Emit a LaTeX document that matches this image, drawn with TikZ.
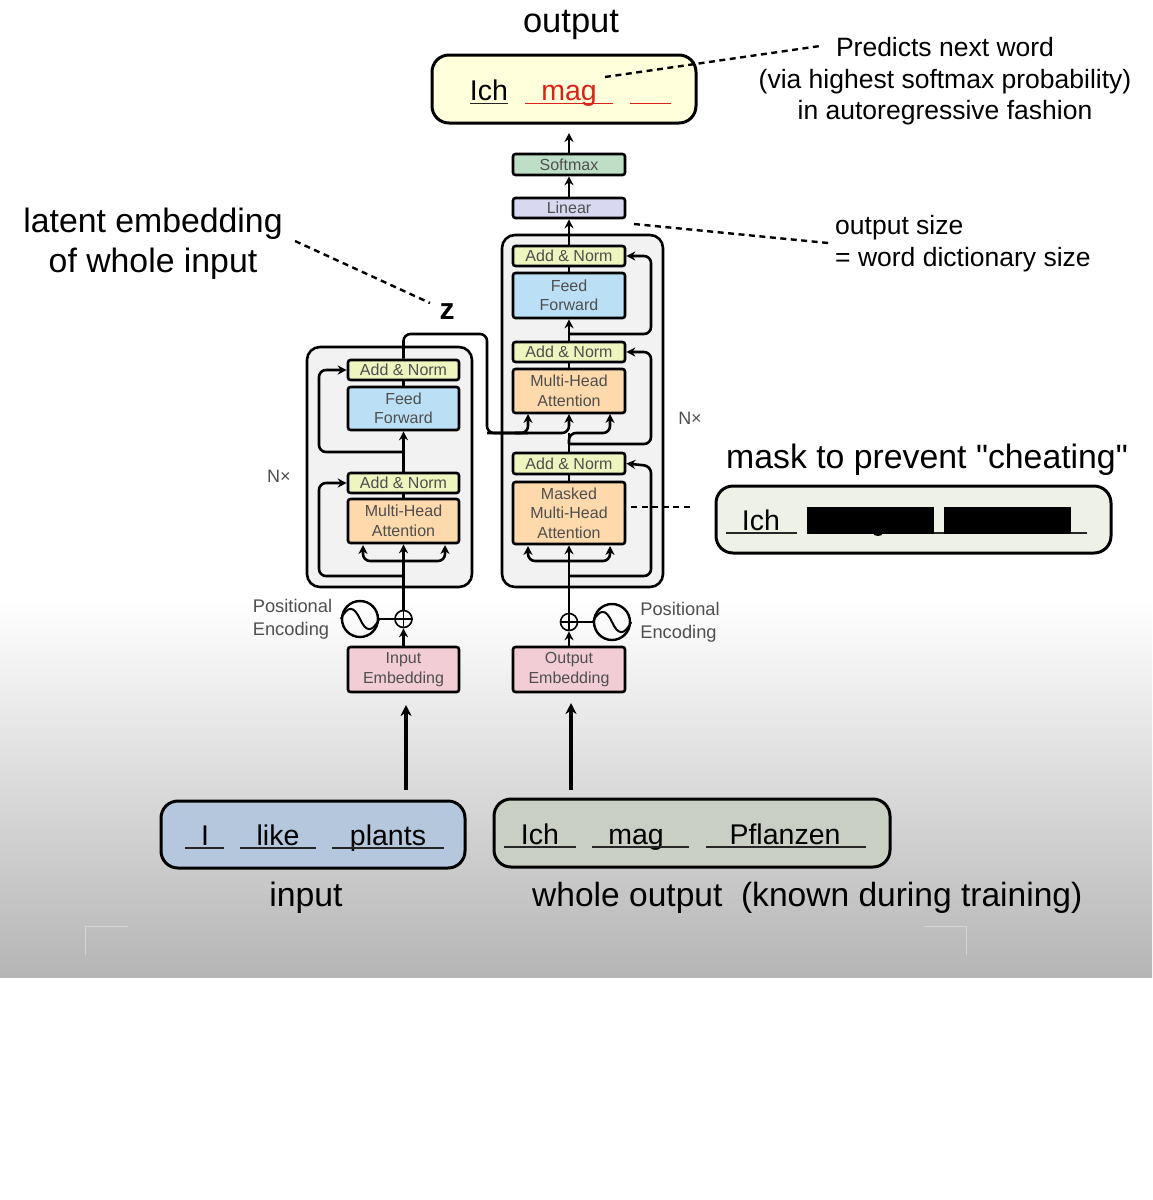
\documentclass[tikz,border=0pt]{standalone}
\usepackage{fontspec}
\setmainfont{Liberation Sans}
\newfontfamily\plainf{Liberation Sans}
\usetikzlibrary{arrows.meta}
\definecolor{txtc}{HTML}{4F4F4F}
\definecolor{ancol}{HTML}{EFF5BE}
\definecolor{ffcol}{HTML}{BBE0F5}
\definecolor{mhcol}{HTML}{FDD9AC}
\definecolor{smcol}{HTML}{BEDFC5}
\definecolor{lncol}{HTML}{D8D8F0}
\definecolor{emcol}{HTML}{F2CDD6}
\definecolor{stackc}{HTML}{F2F2F2}
\definecolor{redc}{HTML}{D8231B}
\definecolor{oboxc}{HTML}{FFFFDC}
\definecolor{mboxc}{HTML}{EEF2E6}
\definecolor{iboxc}{HTML}{B4C7DC}
\definecolor{wboxc}{HTML}{C9CFC3}
\newcommand{\fs}[1]{\fontsize{#1}{#1}\selectfont}
\tikzset{
  x=1pt,y=-1pt,
  blockb/.style={draw=black,line width=2.6pt,rounded corners=2.5pt,inner sep=0pt,align=center,text=txtc,font=\fs{16},anchor=center},
  stackb/.style={draw=black,line width=2.6pt,rounded corners=13pt,fill=stackc},
  wbox/.style={draw=black,line width=3pt,rounded corners=17pt,inner sep=0pt},
  flow/.style={line width=2.6pt,-{Stealth[length=9pt,width=9pt]}},
  flowb/.style={line width=3.2pt,-{Stealth[length=11pt,width=11pt]}},
  flowl/.style={line width=2.6pt,rounded corners=7pt,-{Stealth[length=9pt,width=9pt]}},
  plain/.style={line width=2.6pt,rounded corners=7pt},
  dots/.style={line width=2.4pt,dash pattern=on 6pt off 4.5pt},
  big/.style={font=\fs{33.8},text=black,inner sep=0pt,anchor=base},
  mid/.style={font=\fs{26.5},text=black,inner sep=0pt,anchor=base},
  word/.style={font=\fs{28.5},text=black,inner sep=0pt,anchor=base},
  side/.style={font=\fs{18.3},text=txtc,inner sep=0pt,align=left},
  nxl/.style={font=\fs{18},text=txtc,inner sep=0pt},
  uline/.style={line width=1.4pt,black!85},
  oplus/.style={circle,draw=black,line width=1.6pt,minimum size=17pt,inner sep=0pt},
  sine/.style={circle,draw=black,line width=2.4pt,minimum size=36pt,inner sep=0pt},
}
\newcommand{\blk}[7]{\node[blockb,fill=#2,minimum width=#5 pt-#4 pt,minimum height=#7 pt-#6 pt] (#1) at ({(#4+#5)/2},{(#6+#7)/2}) {#3};}
\begin{document}
\begin{tikzpicture}
\useasboundingbox (0,0) rectangle (1152,1200);
\fill[white] (0,0) rectangle (1152,1200);
\shade[top color=white,bottom color=black!29] (0,600) rectangle (1152,977);
\draw[black!17,line width=.8pt] (85,955) -- (85,926) -- (128,926);
\draw[black!17,line width=.8pt] (924,926) -- (966,926) -- (966,955);

% stacks
\draw[stackb] (307,347) rectangle (472,587);
\draw[stackb] (502,235) rectangle (663,587);

% junction coordinates
\coordinate (enctop) at (403.5,334);
\coordinate (encjump) at (487,334);
\coordinate (encin) at (487,433);

% encoder blocks
\blk{ean1}{ancol}{Add \& Norm}{348}{459}{360}{380}
\blk{eff}{ffcol}{Feed\\[3.5pt]Forward}{348}{459}{387}{430}
\blk{ean2}{ancol}{Add \& Norm}{348}{459}{473}{493}
\blk{emh}{mhcol}{Multi-Head\\[3.5pt]Attention}{348}{459}{499}{543}
\blk{iemb}{emcol}{Input\\[3.5pt]Embedding}{348}{459}{647}{692}

% decoder blocks
\blk{sm}{smcol}{Softmax}{513}{625}{154}{175}
\blk{lin}{lncol}{Linear}{513}{625}{198}{218}
\blk{dan1}{ancol}{Add \& Norm}{513}{625}{246}{266}
\blk{dff}{ffcol}{Feed\\[3.5pt]Forward}{513}{625}{273}{318}
\blk{dan2}{ancol}{Add \& Norm}{513}{625}{342}{362}
\blk{dmh}{mhcol}{Multi-Head\\[3.5pt]Attention}{513}{625}{369}{413}
\blk{dan3}{ancol}{Add \& Norm}{513}{625}{453}{474}
\blk{dmm}{mhcol}{Masked\\[3.5pt]Multi-Head\\[3.5pt]Attention}{513}{625}{482}{544}
\blk{oemb}{emcol}{Output\\[3.5pt]Embedding}{513}{625}{647}{692}

% positional encoding
\node[oplus] (eplus) at (403.5,619) {};
\node[oplus] (dplus) at (569,622) {};
\node[sine] (esin) at (360,619) {};
\node[sine] (dsin) at (612,622) {};
\draw[line width=2pt] (esin.west) .. controls (348,605) and (354,606) .. (esin.center) .. controls (366,632) and (372,633) .. (esin.east);
\draw[line width=2pt] (dsin.west) .. controls (600,608) and (606,609) .. (dsin.center) .. controls (618,635) and (624,636) .. (dsin.east);
\draw[line width=1.6pt] (eplus.north) -- (eplus.south) (eplus.west) -- (eplus.east);
\draw[line width=1.6pt] (dplus.north) -- (dplus.south) (dplus.west) -- (dplus.east);
\draw[line width=2.4pt] (esin) -- (eplus);
\draw[line width=2.4pt] (dsin) -- (dplus);
\node[side] (pel) at (292.5,619) {Positional\\[5pt]Encoding};
\node[side] (per) at (680,622) {Positional\\[5pt]Encoding};
\node[nxl] (nxa) at (279,476) {N×};
\node[nxl] (nxb) at (690,418) {N×};

% encoder connectors
\draw[flow] (iemb.north) -- (eplus.south);
\draw[flow] (eplus.north) -- (emh.south);
\coordinate (ea) at (403.5,576);
\coordinate (eb) at (403.5,561);
\coordinate (ec) at (403.5,452);
\draw[flowl] (ea) -- (319,576) -- (319,483) -- (ean2.west);
\draw[flowl] (eb) -- (363,561) -- (363,545);
\draw[flowl] (eb) -- (445,561) -- (445,545);
\draw[line width=2.6pt] (ean2.south) -- (emh.north);
\draw[flow] (ean2.north) -- (eff.south);
\draw[flowl] (ec) -- (319,452) -- (319,370) -- (ean1.west);
\draw[line width=2.6pt] (eff.north) -- (ean1.south);
\draw[plain] (ean1.north) -- (enctop) -- (encjump) -- (encin) -- (528,433);
\draw[flowl] (encin) -- (569,433) -- (569,414);
\draw[flowl] (515,433) -- (528,433) -- (528,414);

% decoder connectors
\draw[flow] (oemb.north) -- (dplus.south);
\draw[flow] (dplus.north) -- (dmm.south);
\coordinate (da) at (569,576);
\coordinate (db) at (569,561);
\coordinate (dc) at (569,444);
\coordinate (dd) at (569,433);
\coordinate (de) at (569,334);
\draw[flowl] (da) -- (651,576) -- (651,466) -- (dan3.east);
\draw[flowl] (db) -- (528,561) -- (528,546);
\draw[flowl] (db) -- (610,561) -- (610,546);
\draw[line width=2.6pt] (dan3.south) -- (dmm.north);
\draw[line width=2.6pt] (dan3.north) -- (dd);
\draw[flowl] (dc) -- (651,444) -- (651,352) -- (dan2.east);
\draw[flowl] (569,444) -- (569,433) -- (610,433) -- (610,414);
\draw[line width=2.6pt] (dan2.south) -- (dmh.north);
\draw[flow] (dan2.north) -- (dff.south);
\draw[flowl] (de) -- (651,334) -- (651,256) -- (dan1.east);
\draw[line width=2.6pt] (dff.north) -- (dan1.south);
\draw[flow] (dan1.north) -- (lin.south);
\draw[flow] (lin.north) -- (sm.south);
\coordinate (smtop) at (569,133);
\draw[flow] (sm.north) -- (smtop);

% word boxes
\node[wbox,fill=oboxc,minimum width=264pt,minimum height=68pt] (obox) at (564,89) {};
\node[wbox,fill=mboxc,minimum width=395pt,minimum height=67pt] (mbox) at (913.5,519.5) {};
\node[wbox,fill=iboxc,minimum width=304pt,minimum height=67pt] (ibox) at (313,834.5) {};
\node[wbox,fill=wboxc,minimum width=396pt,minimum height=68pt] (wbox2) at (692,833) {};

\node[word] (o1) at (489,100) {Ich};
\node[word,text=redc] (o2) at (569,100) {mag};
\draw[uline] (470,103.5) -- (508,103.5);
\draw[uline,redc] (525,103.5) -- (613,103.5);
\draw[uline,redc] (630,103.5) -- (671,103.5);

\node[word] (m1) at (761,530) {Ich};
\draw[uline] (726,533) -- (797,533);
\draw[uline] (934,533) -- (944,533);
\draw[uline] (1071,533) -- (1087,533);
\node[fill=black,minimum width=127pt,minimum height=27pt,inner sep=0pt] (bk1) at (870.5,520.5) {};
\node[fill=black,minimum width=127pt,minimum height=27pt,inner sep=0pt] (bk2) at (1007.5,520.5) {};
\fill[black] (878,533) ellipse (5 and 3);

\node[word] (i1) at (205,845) {I};
\node[word] (i2) at (278,845) {like};
\node[word] (i3) at (388,845) {plants};
\draw[uline] (185,848) -- (224,848);
\draw[uline] (240,848) -- (316,848);
\draw[uline] (332,848) -- (444,848);

\node[word] (w1) at (540,844) {Ich};
\node[word] (w2) at (636,844) {mag};
\node[word] (w3) at (785,844) {Pflanzen};
\draw[uline] (504,847) -- (576,847);
\draw[uline] (592,847) -- (689,847);
\draw[uline] (706,847) -- (866,847);

% big arrows
\coordinate (a1) at (406,790);
\coordinate (a2) at (406,705);
\coordinate (b1) at (571,790);
\coordinate (b2) at (571,703);
\draw[flowb] (a1) -- (a2);
\draw[flowb] (b1) -- (b2);

% labels
\node[big,font=\fs{34.5}] (lo) at (571,32) {output};
\node[big] (li) at (306,906) {input};
\node[big,anchor=base west,font=\fs{33.55}] (lw) at (532,906) {whole output\ \ (known during training)};
\node[big] (la) at (153,232) {latent embedding};
\node[big] (lb) at (153,272) {of whole input};
\node[font=\bfseries\fs{30},text=black,inner sep=0pt,anchor=base] (z) at (447,319) {z};
\node[big,anchor=base west,font=\plainf\fs{33.8}] (lm) at (726,468) {mask to prevent "cheating"};
\node[mid] (lp1) at (945,56) {Predicts next word};
\node[mid] (lp2) at (945,88) {(via highest softmax probability)};
\node[mid] (lp3) at (945,119) {in autoregressive fashion};
\node[mid,anchor=base west] (ls1) at (835,234) {output size};
\node[mid,anchor=base west] (ls2) at (835,266) {= word dictionary size};

% dashed leaders
\coordinate (d1a) at (605,77);
\coordinate (d1b) at (820,46);
\coordinate (d2a) at (634,224);
\coordinate (d2b) at (828,243);
\coordinate (d3a) at (295,241);
\coordinate (d3b) at (430,303);
\coordinate (d4a) at (631,507);
\coordinate (d4b) at (692,507);
\draw[dots] (d1a) -- (d1b);
\draw[dots] (d2a) -- (d2b);
\draw[dots] (d3a) -- (d3b);
\draw[dots] (d4a) -- (d4b);
\end{tikzpicture}
\end{document}
